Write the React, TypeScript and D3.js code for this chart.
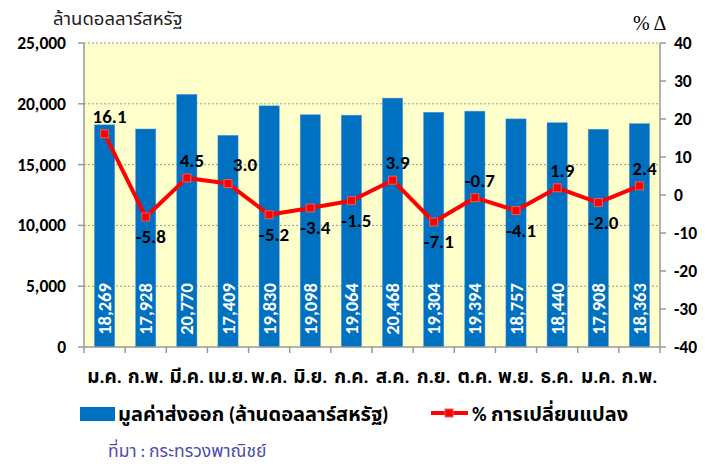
import React from "react";
import * as d3 from "d3";

const months = ["ม.ค.", "ก.พ.", "มี.ค.", "เม.ย.", "พ.ค.", "มิ.ย.", "ก.ค.", "ส.ค.", "ก.ย.", "ต.ค.", "พ.ย.", "ธ.ค.", "ม.ค. ", "ก.พ. "];
const exportValues = [18269, 17928, 20770, 17409, 19830, 19098, 19064, 20468, 19304, 19394, 18757, 18440, 17908, 18363];
const pctChange = [16.1, -5.8, 4.5, 3.0, -5.2, -3.4, -1.5, 3.9, -7.1, -0.7, -4.1, 1.9, -2.0, 2.4];
const labelAbove = [true, false, true, true, false, false, false, true, false, true, false, true, false, true];
const leftTicks = [0, 5000, 10000, 15000, 20000, 25000];
const rightTicks = [-40, -30, -20, -10, 0, 10, 20, 30, 40];

const W = 711, H = 466;
const L = 84, R = 660, T = 43, B = 347;
const font = "Calibri, Carlito, 'Open Sans', 'Noto Sans Thai', Tahoma, sans-serif";

export default function App() {
  const x = d3.scaleBand<string>().domain(months).range([L, R]).padding(0);
  const yL = d3.scaleLinear().domain([0, 25000]).range([B, T]);
  const yR = d3.scaleLinear().domain([-40, 40]).range([B, T]);
  const bw = x.bandwidth() * 0.49;
  const cx = (i: number) => (x(months[i]) as number) + x.bandwidth() / 2;
  const line = d3.line<number>().x((_, i) => cx(i)).y((d) => yR(d));
  const fmt = d3.format(",");

  return (
    <svg width={W} height={H} style={{ position: "absolute", left: 0, top: 0, fontFamily: font }}>
      <rect x={0} y={0} width={W} height={H} fill="#fff" />
      <rect x={L} y={T} width={R - L} height={B - T} fill="#FFFFCC" />
      {leftTicks.filter((t) => t > 0).map((t) => (
        <line key={t} x1={L} x2={R} y1={yL(t)} y2={yL(t)} stroke="#999" strokeDasharray="2,2" strokeWidth={1} />
      ))}
      {exportValues.map((v, i) => (
        <rect key={i} x={cx(i) - bw / 2} y={yL(v)} width={bw} height={B - yL(v)} fill="#0070C0" stroke="#4A9AD0" strokeWidth={0.5} />
      ))}
      {exportValues.map((v, i) => (
        <text key={i} transform={`translate(${cx(i) + 6.5},${309}) rotate(-90)`} textAnchor="middle" fill="#fff" fontWeight="bold" fontSize={18.5}>
          {fmt(v)}
        </text>
      ))}
      {/* axes */}
      <line x1={L} x2={L} y1={T} y2={B} stroke="#999" strokeWidth={1.5} />
      <line x1={R} x2={R} y1={T} y2={B} stroke="#999" strokeWidth={1.5} />
      <line x1={L} x2={R} y1={B} y2={B} stroke="#999" strokeWidth={1.5} />
      {leftTicks.map((t) => (
        <g key={t}>
          <line x1={L - 6} x2={L} y1={yL(t)} y2={yL(t)} stroke="#999" strokeWidth={1.5} />
          <text x={66} y={yL(t) + 6} textAnchor="end" fontWeight="bold" fontSize={17.5} fill="#000">{fmt(t)}</text>
        </g>
      ))}
      {rightTicks.map((t) => (
        <g key={t}>
          <line x1={R} x2={R + 6} y1={yR(t)} y2={yR(t)} stroke="#999" strokeWidth={1.5} />
          <text x={674} y={yR(t) + 6} textAnchor="start" fontWeight="bold" fontSize={17.5} fill="#000">{t}</text>
        </g>
      ))}
      {months.map((m, i) => (
        <line key={i} x1={x(m) as number} x2={x(m) as number} y1={B} y2={B + 6} stroke="#999" strokeWidth={1.5} />
      ))}
      <line x1={R} x2={R} y1={B} y2={B + 6} stroke="#999" strokeWidth={1.5} />
      {months.map((m, i) => (
        <text key={i} x={cx(i)} y={383} textAnchor="middle" fontWeight="bold" fontSize={19} fill="#000">{m.trim()}</text>
      ))}
      {/* line */}
      <path d={line(pctChange) as string} fill="none" stroke="#FF0000" strokeWidth={4} strokeLinejoin="round" />
      {pctChange.map((v, i) => (
        <rect key={i} x={cx(i) - 4} y={yR(v) - 4} width={8} height={8} fill="#FF0000" stroke="#E06060" strokeWidth={1} />
      ))}
      {pctChange.map((v, i) => (
        <text key={i} x={cx(i) + (i === 3 ? 17 : 5)} y={yR(v) + (labelAbove[i] ? (i === 3 ? -13 : -11) : 26)} textAnchor="middle" fontWeight="bold" fontSize={19} fill="#000">
          {v.toFixed(1)}
        </text>
      ))}
      {/* axis titles */}
      <text x={53} y={25} fontSize={18.5} fill="#222" fontFamily="Tahoma, 'Noto Sans Thai', sans-serif">ล้านดอลลาร์สหรัฐ</text>
      <text x={633} y={30} fontSize={20} fill="#000" fontFamily="'Times New Roman', 'Liberation Serif', serif">% Δ</text>
      {/* legend */}
      <rect x={80} y={407} width={35} height={14} fill="#0070C0" />
      <text x={118} y={421} fontWeight="bold" fontSize={20} fill="#000">มูลค่าส่งออก (ล้านดอลลาร์สหรัฐ)</text>
      <line x1={431} x2={468} y1={413} y2={413} stroke="#FF0000" strokeWidth={4} />
      <rect x={445} y={409} width={8} height={8} fill="#FF0000" stroke="#E06060" strokeWidth={1} />
      <text x={472} y={421} fontWeight="bold" fontSize={20} fill="#000">% การเปลี่ยนแปลง</text>
      <text x={108} y={457} fontSize={17.5} fill="#4B4BB0">ที่มา : กระทรวงพาณิชย์</text>
    </svg>
  );
}
